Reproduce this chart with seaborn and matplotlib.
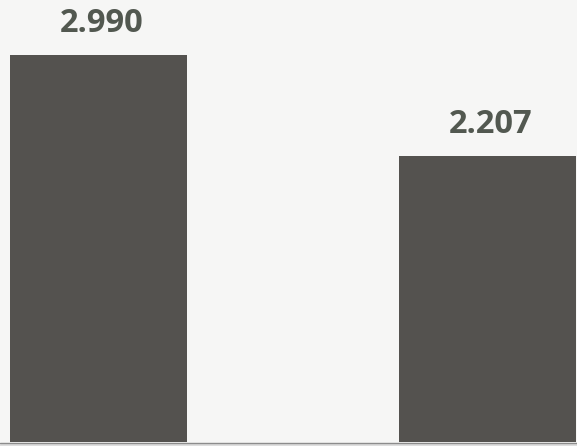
import matplotlib
matplotlib.use("Agg")
import matplotlib.pyplot as plt
import seaborn as sns
import pandas as pd

# Values shown above each bar
categories = ["Group 1", "Group 2"]
values = [2.990, 2.207]
value_labels = ["2.990", "2.207"]

df = pd.DataFrame({"category": categories, "value": values})

sns.set_theme(style="white")
plt.rcParams["font.family"] = ["Open Sans", "DejaVu Sans"]

fig = plt.figure(figsize=(5.77, 4.46), dpi=100)
bg = "#f6f6f5"
fig.patch.set_facecolor(bg)
ax = fig.add_axes([0, 0, 1, 1])
ax.set_facecolor(bg)

sns.barplot(data=df, x="category", y="value", color="#54524f",
            saturation=1, width=0.455, ax=ax, edgecolor="none")

for patch, lab in zip(ax.patches, value_labels):
    cx = patch.get_x() + patch.get_width() / 2
    ax.annotate(lab, xy=(cx, patch.get_height()), xytext=(2.5, 11),
                textcoords="offset points", ha="center", va="bottom",
                fontsize=23.5, fontweight="bold", color="#525850")

# baseline and the light strip beneath it
ax.axhspan(-0.05, -0.006, color="#dedede", zorder=0, lw=0)
ax.axhline(-0.004, color="#8c8c8c", lw=1.0, zorder=3)

ax.set_xlim(-0.253, 1.230)
ax.set_ylim(-0.031, 3.415)
ax.set_xlabel("")
ax.set_ylabel("")
ax.set_xticks([])
ax.set_yticks([])
for s in ax.spines.values():
    s.set_visible(False)

fig.savefig("out.png", dpi=100, facecolor=bg)
